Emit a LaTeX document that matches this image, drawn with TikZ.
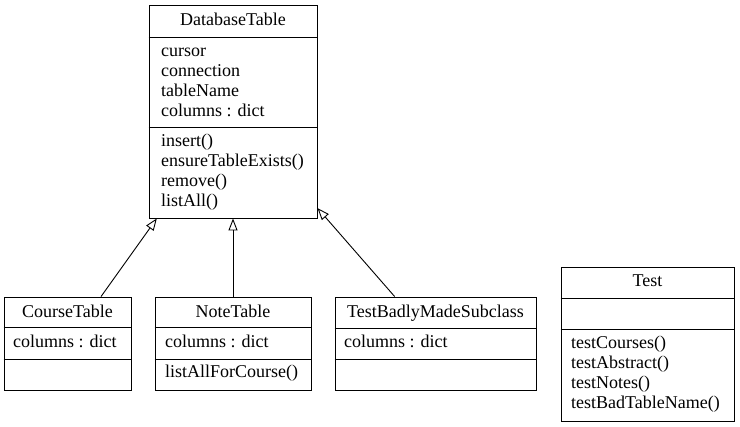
\documentclass[tikz,border=0pt]{standalone}
\usepackage{fontspec}
\setmainfont{Liberation Serif}
\usetikzlibrary{arrows.meta}
\begin{document}
\begin{tikzpicture}[x=1pt,y=-1pt,
  cls/.style={draw, line width=0.9pt, rectangle, inner sep=0pt},
  txt/.style={anchor=base west, inner sep=0pt, font=\fontsize{18}{20}\selectfont},
  ttl/.style={anchor=base, inner sep=0pt, font=\fontsize{18}{20}\selectfont},
  sep/.style={line width=0.9pt},
  inh/.style={-{Triangle[open,length=12,width=9]}, line width=0.9pt}]
\useasboundingbox[fill=white] (0,0) rectangle (740,427);
% DatabaseTable
\node[cls, minimum width=168, minimum height=213] (db) at (233,111.5) {};
\draw[sep] (db.west |- 0,37) -- (db.east |- 0,37);
\draw[sep] (db.west |- 0,127) -- (db.east |- 0,127);
\node[ttl] (dbt) at (233,26) {DatabaseTable};
\node[txt] (dba1) at (161,57) {cursor};
\node[txt] (dba2) at (161,76.7) {connection};
\node[txt] (dba3) at (161,96.4) {tableName};
\node[txt] (dba4) at (161,116.1) {columns : dict};
\node[txt] (dbm1) at (161,147) {insert()};
\node[txt] (dbm2) at (161,166.7) {ensureTableExists()};
\node[txt] (dbm3) at (161,186.4) {remove()};
\node[txt] (dbm4) at (161,206.1) {listAll()};
% CourseTable
\node[cls, minimum width=127, minimum height=93] (ct) at (67.5,343.5) {};
\draw[sep] (ct.west |- 0,327) -- (ct.east |- 0,327);
\draw[sep] (ct.west |- 0,359) -- (ct.east |- 0,359);
\node[ttl] (ctt) at (67.5,318) {CourseTable};
\node[txt] (cta1) at (13,348) {columns : dict};
% NoteTable
\node[cls, minimum width=156, minimum height=93] (nt) at (233,343.5) {};
\draw[sep] (nt.west |- 0,327) -- (nt.east |- 0,327);
\draw[sep] (nt.west |- 0,359) -- (nt.east |- 0,359);
\node[ttl] (ntt) at (233,318) {NoteTable};
\node[txt] (nta1) at (165,348) {columns : dict};
\node[txt] (ntm1) at (165,378) {listAllForCourse()};
% TestBadlyMadeSubclass
\node[cls, minimum width=201, minimum height=93] (tb) at (435.5,343.5) {};
\draw[sep] (tb.west |- 0,328) -- (tb.east |- 0,328);
\draw[sep] (tb.west |- 0,359) -- (tb.east |- 0,359);
\node[ttl] (tbt) at (435.5,318) {TestBadlyMadeSubclass};
\node[txt] (tba1) at (344,348) {columns : dict};
% Test
\node[cls, minimum width=173, minimum height=154] (ts) at (647.5,344) {};
\draw[sep] (ts.west |- 0,298) -- (ts.east |- 0,298);
\draw[sep] (ts.west |- 0,329) -- (ts.east |- 0,329);
\node[ttl] (tst) at (647.5,287) {Test};
\node[txt] (tsm1) at (571,349) {testCourses()};
\node[txt] (tsm2) at (571,368.7) {testAbstract()};
\node[txt] (tsm3) at (571,388.4) {testNotes()};
\node[txt] (tsm4) at (571,408.1) {testBadTableName()};
% inheritance
\draw[inh] (ct) -- (db);
\draw[inh] (nt) -- (db);
\draw[inh] (tb) -- (db);
\end{tikzpicture}
\end{document}
